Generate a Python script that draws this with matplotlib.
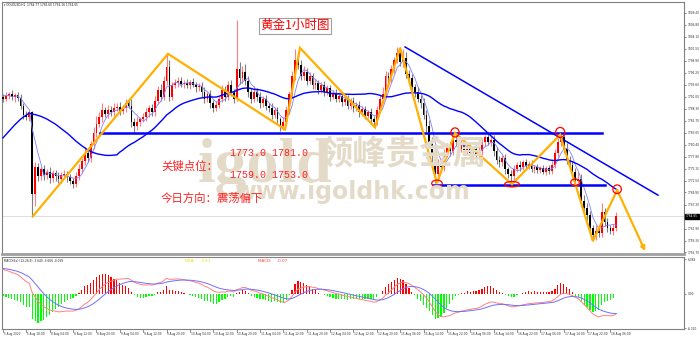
import matplotlib
matplotlib.use('Agg')
import matplotlib.pyplot as plt
import numpy as np
import pandas as pd
from matplotlib.patches import Ellipse
from matplotlib.transforms import blended_transform_factory

plt.rcParams['font.family'] = ['Noto Sans CJK SC', 'DejaVu Sans']

# ---------------- data ----------------
history = [1768.0, 1769.5, 1770.5, 1769.0, 1770.0, 1771.5, 1770.8, 1772.0, 1773.5, 1775.0,
           1776.5, 1778.0, 1779.5, 1781.0, 1782.5, 1783.0, 1784.5, 1785.0, 1786.0, 1787.5,
           1788.0, 1789.0, 1788.5, 1789.5, 1790.0, 1791.0, 1790.5, 1791.5, 1792.0, 1791.0]

first_open = 1791.0
closes = [
    1790.5, 1791.2, 1791.5, 1790.8, 1791.4, 1790.6, 1789.0, 1787.0, 1786.5, 1787.5,
    1769.5, 1775.5, 1773.5, 1775.0, 1773.8, 1774.5, 1773.0, 1774.2, 1773.5, 1772.8,
    1773.8, 1774.0, 1773.2, 1772.5, 1771.8, 1773.5, 1775.0, 1776.8, 1778.5, 1777.5,
    1780.5, 1783.0, 1785.0, 1786.5, 1788.0, 1787.2, 1788.0, 1787.5, 1788.5, 1788.8,
    1787.8, 1788.5, 1789.5, 1789.0, 1785.5, 1784.5, 1785.5, 1786.0, 1786.5, 1787.5,
    1788.5, 1787.5, 1790.0, 1792.5, 1791.0, 1794.5, 1797.5, 1791.0, 1793.5, 1794.0,
    1794.5, 1793.8, 1794.0, 1793.5, 1794.2, 1793.6, 1793.0, 1793.4, 1792.0, 1790.5,
    1791.5, 1789.5, 1788.5, 1789.2, 1790.5, 1792.5, 1791.0, 1793.5, 1792.0, 1790.5,
    1797.0, 1795.0, 1796.5, 1794.5, 1792.0, 1790.5, 1792.0, 1791.0, 1789.5, 1790.5,
    1789.0, 1788.5, 1787.0, 1788.0, 1786.0, 1784.5, 1785.5, 1788.0, 1791.5, 1795.5,
    1799.0, 1798.0, 1795.5, 1796.5, 1794.5, 1795.5, 1793.5, 1794.0, 1792.5, 1793.5,
    1792.0, 1792.8, 1791.0, 1791.8, 1790.5, 1791.2, 1789.8, 1790.5, 1789.0, 1790.0,
    1788.5, 1789.2, 1787.5, 1788.2, 1786.8, 1787.5, 1786.0, 1785.5, 1788.0, 1790.5,
    1791.5, 1795.5, 1795.0, 1797.0, 1799.0, 1800.5, 1798.5, 1799.5, 1796.0, 1795.0,
    1793.0, 1792.0, 1790.5, 1789.5, 1787.0, 1784.5, 1781.0, 1778.0, 1774.0, 1776.0,
    1775.5, 1778.5, 1780.0, 1779.0, 1781.5, 1781.0, 1779.5, 1780.5, 1779.0, 1779.8,
    1778.5, 1779.5, 1778.2, 1779.0, 1781.0, 1782.0, 1781.0, 1781.5, 1779.0, 1777.0,
    1776.5, 1777.5, 1775.0, 1774.0, 1773.5, 1775.0, 1776.0, 1775.5, 1776.5, 1775.8,
    1776.2, 1775.0, 1775.5, 1774.8, 1775.2, 1774.5, 1775.2, 1774.6, 1776.0, 1778.5,
    1781.0, 1782.0, 1779.5, 1777.0, 1776.0, 1774.5, 1772.5, 1772.8, 1768.0, 1766.5,
    1765.0, 1762.0, 1760.5, 1761.5, 1761.0, 1765.5, 1763.5, 1762.0, 1761.5, 1762.0,
    1764.65]

wick_up = [
    0.6, 0.8, 0.5, 0.9, 0.4, 0.7, 1.0, 0.6, 0.8, 0.5,
    0.3, 1.2, 0.8, 0.6, 1.0, 0.5, 0.9, 0.6, 0.7, 0.8,
    0.5, 0.9, 0.6, 0.7, 0.5, 0.8, 1.1, 0.7, 1.5, 0.9,
    0.8, 1.2, 1.8, 1.0, 1.5, 0.8, 1.2, 0.9, 1.0, 0.7,
    0.9, 0.6, 1.0, 0.8, 1.5, 0.7, 0.9, 0.6, 0.8, 1.0,
    0.7, 0.9, 1.2, 0.8, 1.3, 1.0, 2.9, 1.6, 0.8, 0.9,
    0.7, 0.9, 0.6, 0.8, 0.5, 0.9, 0.7, 0.6, 0.8, 1.0,
    0.6, 0.9, 0.7, 0.8, 0.6, 1.0, 0.8, 0.9, 1.2, 0.7,
    10.9, 1.5, 1.2, 1.6, 1.0, 0.9, 1.3, 0.8, 1.1, 0.7,
    0.9, 0.6, 1.0, 0.7, 0.8, 0.6, 0.9, 1.0, 0.8, 1.2,
    2.5, 1.6, 1.0, 1.2, 0.8, 1.0, 0.7, 0.9, 0.6, 0.8,
    0.9, 0.7, 0.8, 0.6, 0.9, 0.7, 0.8, 0.6, 0.9, 0.7,
    0.8, 0.6, 0.9, 0.7, 0.8, 0.6, 0.9, 0.7, 1.0, 0.8,
    1.5, 1.2, 1.0, 0.9, 0.8, 1.3, 1.5, 2.0, 1.2, 0.9,
    1.0, 0.8, 1.1, 0.9, 1.2, 1.0, 1.4, 1.1, 1.6, 1.3,
    1.2, 1.0, 0.8, 1.1, 0.9, 1.3, 0.8, 0.9, 0.7, 0.8,
    0.9, 0.7, 0.8, 1.2, 0.9, 0.6, 0.8, 0.9, 1.0, 0.8,
    0.9, 0.7, 0.8, 0.6, 0.9, 1.0, 0.7, 0.8, 0.6, 0.7,
    0.6, 0.8, 0.5, 0.7, 0.6, 0.8, 0.5, 0.7, 0.9, 1.0,
    0.9, 1.0, 1.6, 1.2, 1.0, 0.9, 0.8, 1.5, 1.1, 1.3,
    1.0, 0.9, 0.8, 1.2, 0.9, 2.0, 1.0, 0.8, 0.7, 0.9,
    0.9]

wick_dn = [
    0.7, 0.5, 0.8, 0.6, 0.9, 0.5, 0.8, 1.0, 0.7, 0.9,
    4.9, 2.5, 1.0, 0.8, 1.2, 0.9, 1.1, 0.7, 1.0, 0.8,
    0.9, 0.6, 1.0, 0.8, 1.0, 0.7, 0.9, 0.8, 0.9, 1.0,
    0.8, 1.0, 0.9, 0.7, 1.0, 0.8, 0.9, 0.7, 0.8, 0.6,
    0.8, 0.7, 0.9, 0.6, 1.2, 1.3, 0.8, 0.9, 0.7, 0.8,
    0.9, 0.7, 0.8, 0.6, 1.0, 0.8, 0.9, 1.0, 0.8, 0.7,
    0.8, 0.6, 0.9, 0.7, 0.8, 0.6, 0.9, 0.7, 1.0, 0.9,
    0.8, 1.0, 0.9, 0.7, 0.8, 0.6, 0.9, 0.7, 0.8, 1.0,
    0.5, 1.2, 1.0, 0.9, 1.1, 1.0, 0.8, 0.9, 1.0, 0.8,
    0.9, 0.8, 1.0, 0.7, 0.9, 1.0, 0.9, 0.7, 0.8, 0.9,
    0.8, 1.0, 0.9, 0.8, 1.0, 0.7, 0.9, 0.8, 1.0, 0.7,
    0.8, 0.7, 0.9, 0.6, 0.8, 0.7, 0.9, 0.6, 0.8, 0.7,
    0.8, 0.6, 0.9, 0.7, 0.8, 0.6, 0.9, 1.3, 0.8, 0.7,
    0.8, 0.9, 0.7, 0.8, 0.9, 0.7, 0.8, 0.9, 1.0, 0.8,
    0.9, 1.0, 0.8, 1.1, 0.9, 1.2, 1.0, 1.3, 2.0, 1.2,
    1.0, 0.9, 0.8, 1.0, 0.9, 0.8, 1.0, 0.7, 0.9, 0.8,
    0.7, 0.9, 0.8, 0.7, 0.9, 0.8, 0.7, 0.9, 1.0, 0.8,
    0.9, 0.8, 1.0, 0.9, 1.9, 0.8, 0.7, 0.9, 0.6, 0.8,
    0.7, 0.6, 0.8, 0.6, 0.7, 0.6, 0.8, 0.6, 0.7, 0.8,
    0.9, 0.8, 1.0, 0.9, 1.1, 1.0, 1.2, 0.9, 1.3, 1.1,
    1.2, 1.0, 1.3, 1.0, 0.9, 0.8, 1.0, 0.9, 0.8, 0.9,
    0.5]

date_labels = ["5 Aug 2022", "5 Aug 18:00", "8 Aug 04:00", "8 Aug 12:00", "8 Aug 20:00",
               "9 Aug 04:00", "9 Aug 12:00", "9 Aug 20:00", "10 Aug 04:00", "10 Aug 12:00",
               "10 Aug 20:00", "11 Aug 04:00", "11 Aug 12:00", "11 Aug 20:00", "12 Aug 04:00",
               "12 Aug 12:00", "12 Aug 20:00", "15 Aug 06:00", "15 Aug 14:00", "15 Aug 22:00",
               "16 Aug 06:00", "16 Aug 14:00", "16 Aug 22:00", "17 Aug 06:00", "17 Aug 14:00",
               "17 Aug 22:00", "18 Aug 06:00"]
date_step = 8

price_ticks = [1809.40, 1806.80, 1804.10, 1801.50, 1798.90, 1796.20, 1793.60, 1791.00,
               1788.30, 1785.70, 1783.05, 1780.40, 1777.80, 1775.15, 1772.50, 1769.90,
               1767.20, 1761.90, 1759.30, 1756.70]
macd_ticks = [6.389, 0.0, -6.32]
macd_tick_labels = ["6.389", "0.00", "-6.320"]

# analyst drawings (candle index, price)
zz_idx = [10.3, 56.5, 96.6, 101.7, 127.4, 136.0, 148.6, 154.8, 174.3, 190.8, 202.0, 210.3]
zz_price = [1764.7, 1800.4, 1783.75, 1801.7, 1784.2, 1801.7, 1771.9, 1783.0, 1771.7, 1782.6, 1759.2, 1770.4]
proj_idx = [210.3, 219.9]
proj_price = [1770.4, 1757.0]
trend_idx = [137.7, 224.3]
trend_price = [1801.9, 1769.3]
upper_level = 1783.0
upper_span = [33.2, 205.2]
lower_level = 1771.6
lower_span = [147.3, 206.2]
circle_idx = [148.6, 154.8, 174.3, 190.8, 196.0, 210.3]
circle_price = [1771.9, 1783.1, 1771.7, 1783.1, 1772.1, 1770.6]
circle_w = [3.6, 2.8, 5.0, 3.1, 3.2, 2.9]
circle_h = [1.4, 2.0, 1.2, 2.2, 1.5, 1.9]

key_up = "1773.0 1781.0"
key_dn = "1759.0 1753.0"

# ---------------- derived ----------------
N = len(closes)
x = np.arange(N)
c = np.array(closes)
o = np.array([first_open] + closes[:-1])
hi = np.maximum(o, c) + np.array(wick_up)
lo = np.minimum(o, c) - np.array(wick_dn)

full = pd.Series(history + closes)
H = len(history)
ma_slow = full.rolling(30).mean().iloc[H:].values
ma_fast = full.rolling(5).mean().iloc[H:].values
ema12 = full.ewm(span=12, adjust=False).mean()
ema26 = full.ewm(span=26, adjust=False).mean()
dif = ema12 - ema26
dea = dif.ewm(span=9, adjust=False).mean()
hist = 2 * (dif - dea)
dif_v = dif.iloc[H:].values
dea_v = dea.iloc[H:].values
hist_v = hist.iloc[H:].values

# ---------------- figure ----------------
W, Hpx = 700, 339
TINY = 2.1
fig = plt.figure(figsize=(W / 100, Hpx / 100), dpi=100)
fig.patch.set_facecolor('white')
ax = fig.add_axes([2 / W, 1 - 254 / Hpx, 682 / W, 252 / Hpx])
axm = fig.add_axes([2 / W, 1 - 329 / Hpx, 682 / W, 72 / Hpx])

xl = (-0.34, 233.2)
for a in (ax, axm):
    a.set_xlim(*xl)
    for s in a.spines.values():
        s.set_color('#808080')
        s.set_linewidth(0.8)
    a.tick_params(axis='y', left=False, right=True, labelleft=False, labelright=True,
                  labelsize=TINY, length=1.5, width=0.5, color='#606060', pad=1,
                  labelcolor='#303030')
    a.tick_params(axis='x', bottom=False, labelbottom=False)
    a.set_facecolor('none')
ax.spines['bottom'].set_linewidth(2.0)
ax.spines['bottom'].set_color('#a0a0a0')

ax.set_ylim(1756.35, 1811.8)
ax.set_yticks(price_ticks)
ax.set_yticklabels([f"{v:.2f}" for v in price_ticks], family='DejaVu Sans')

# watermark
wm = '#e4dac8'
fig.text(198 / W, 1 - 182 / Hpx, "igold", family='Liberation Serif', weight='bold',
         fontsize=46, color=wm, ha='left', va='baseline', zorder=0)
fig.text(403 / W, 1 - 155 / Hpx, "领峰贵金属", family=['Noto Sans CJK SC'], weight='bold',
         fontsize=24, color=wm, ha='center', va='center', zorder=0)
fig.text(352 / W, 1 - 192 / Hpx, "www.igoldhk.com", family='DejaVu Sans', weight='bold',
         fontsize=17, color=wm, ha='center', va='center', zorder=0)

# bid line
ax.axhline(c[-1], color='#d8d8d8', lw=0.6, zorder=1)

# candles
up = c >= o
body = np.maximum(np.abs(c - o), 0.12)
ax.vlines(x[up], lo[up], hi[up], color='#ff7f7f', lw=0.8, zorder=3)
ax.vlines(x[~up], lo[~up], hi[~up], color='#7f7f7f', lw=0.8, zorder=3)
ax.bar(x[up], body[up], bottom=o[up], width=0.62, color='#ff0000', lw=0, zorder=4)
ax.bar(x[~up], body[~up], bottom=c[~up], width=0.62, color='#000000', lw=0, zorder=4)

# moving averages
ax.plot(x, ma_fast, color='#8080ff', lw=0.6, zorder=5)
ax.plot(x, ma_slow, color='#0000ff', lw=1.0, zorder=5)

# levels and trend line
ax.plot(upper_span, [upper_level, upper_level], color='#0000ff', lw=1.8, zorder=6)
ax.plot(lower_span, [lower_level, lower_level], color='#0000ff', lw=1.8, zorder=6)
ax.plot(trend_idx, trend_price, color='#0000ff', lw=1.1, zorder=6)

# zigzag
ax.plot(zz_idx, zz_price, color='#ffb000', lw=1.6, zorder=7, solid_joinstyle='miter')
ax.annotate('', xy=(proj_idx[1], proj_price[1]), xytext=(proj_idx[0], proj_price[0]),
            arrowprops=dict(arrowstyle='-|>', color='#ffb000', lw=1.6,
                            mutation_scale=6, shrinkA=0, shrinkB=0), zorder=7)

for ci, cp, cw, ch in zip(circle_idx, circle_price, circle_w, circle_h):
    ax.add_patch(Ellipse((ci, cp), cw, ch, fill=False, edgecolor='#ff0000', lw=0.9, zorder=8))

# current price box
tr = blended_transform_factory(ax.transAxes, ax.transData)
ax.text(1.003, c[-1], f"{c[-1]:.2f}", transform=tr, fontsize=TINY, color='white',
        family='DejaVu Sans', va='center', ha='left',
        bbox=dict(boxstyle='square,pad=0.2', fc='black', ec='black'), zorder=9)

# header texts
fig.text(4 / W, 1 - 5 / Hpx, "▾ GOLDUSD,H1  1764.77 1765.60 1764.16 1764.65", fontsize=TINY,
         color='#202020', family='DejaVu Sans', va='center', ha='left')
fig.text(295 / W, 1 - 25.5 / Hpx, "黄金1小时图", fontsize=9, color='#ff0000', ha='center',
         va='center', bbox=dict(boxstyle='square,pad=0.12', fc='white', ec='#a0a0a0', lw=0.8))

red = '#ff2020'
fig.text(161 / W, 1 - 166 / Hpx, "关键点位：", fontsize=8.2, color=red, va='center', ha='left')
fig.text(230 / W, 1 - 153 / Hpx, key_up, fontsize=7.2, color=red, family='Liberation Mono',
         va='center', ha='left')
fig.text(230 / W, 1 - 175 / Hpx, key_dn, fontsize=7.2, color=red, family='Liberation Mono',
         va='center', ha='left')
fig.text(161 / W, 1 - 198 / Hpx, "今日方向：震荡偏下", fontsize=8.2, color=red, va='center',
         ha='left')

# MACD panel
axm.set_ylim(-6.45, 6.81)
axm.set_yticks(macd_ticks)
axm.set_yticklabels(macd_tick_labels, family='DejaVu Sans')
hcol = np.where(hist_v >= 0, '#ff0000', '#00ff00')
axm.bar(x, hist_v, width=0.42, color=hcol, lw=0, zorder=2)
axm.plot(x, dif_v, color='#ff8080', lw=0.7, zorder=3)
axm.plot(x, dea_v, color='#7070ff', lw=0.7, zorder=3)
fig.text(4 / W, 1 - 260.5 / Hpx,
         f"MACD(Ex) (12,26,9) {dif_v[-1]:.3f} {dea_v[-1]:.3f} {hist_v[-1]:.3f}",
         fontsize=TINY, color='#202020', family='DejaVu Sans', va='center', ha='left')
fig.text(185 / W, 1 - 260.5 / Hpx, f"DEA:    {dea_v[-1]:.2f}", fontsize=3.0, color='#e0e000',
         family='DejaVu Sans', va='center', ha='left')
fig.text(258 / W, 1 - 260.5 / Hpx, f"MACD:    {hist_v[-1]:.2f}", fontsize=3.0, color='#ff4040',
         family='DejaVu Sans', va='center', ha='left')

# date labels
trm = blended_transform_factory(axm.transData, axm.transAxes)
for k, lab in enumerate(date_labels):
    xi = k * date_step
    axm.plot([xi, xi], [0, -0.035], transform=trm, color='#606060', lw=0.5, clip_on=False)
    axm.text(xi + 0.3, -0.035, lab, transform=trm, fontsize=TINY, color='#303030',
             family='DejaVu Sans', ha='left', va='top')

fig.savefig('out.png', dpi=100, facecolor='white')
